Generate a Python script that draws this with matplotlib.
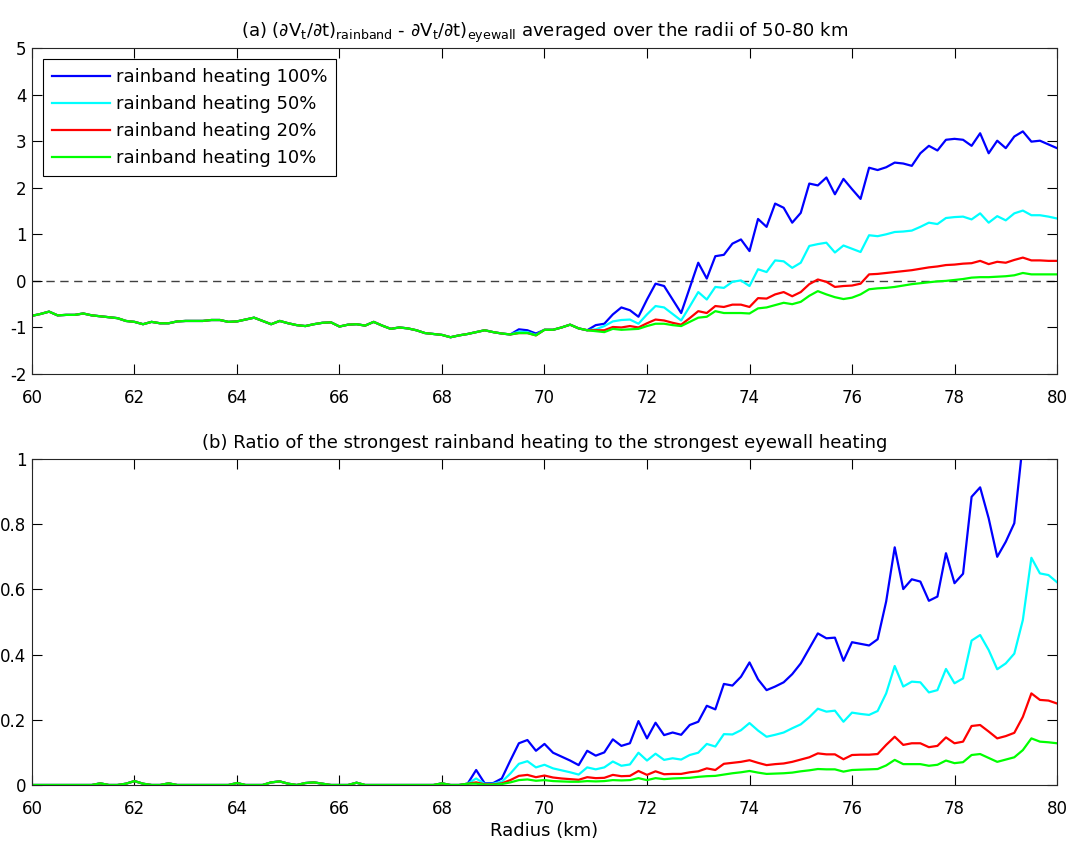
import numpy as np
import matplotlib

matplotlib.use("Agg")
import matplotlib.pyplot as plt


OUTPUT_PATH = "out.png"

# radius grid: every 1/6 km from 60 to 80 km
RADIUS_START = 60.0
RADIUS_STOP = 80.0
N_POINTS = 121

LABELS = [
    "rainband heating 100%",
    "rainband heating 50%",
    "rainband heating 20%",
    "rainband heating 10%",
]
COLORS = ["#0000ff", "#00ffff", "#ff0000", "#00ff00"]

# (a) dVt/dt difference, 60.0 .. 69.33 km, all runs identical here
dvdt_common = [
    -0.75, -0.71, -0.66, -0.74, -0.73, -0.73, -0.70, -0.74, -0.76, -0.78,
    -0.80, -0.86, -0.88, -0.93, -0.88, -0.91, -0.91, -0.87, -0.86, -0.86,
    -0.86, -0.84, -0.84, -0.88, -0.87, -0.83, -0.79, -0.86, -0.93, -0.86,
    -0.91, -0.95, -0.97, -0.93, -0.90, -0.89, -0.98, -0.94, -0.93, -0.96,
    -0.88, -0.96, -1.03, -1.00, -1.02, -1.06, -1.12, -1.14, -1.16, -1.21,
    -1.17, -1.14, -1.10, -1.06, -1.10, -1.13, -1.15,
]

# 69.5 .. 80.0 km
dvdt_100 = [
    -1.04, -1.06, -1.13, -1.05, -1.05, -1.00, -0.94, -1.02, -1.06,
    -0.95, -0.92, -0.72, -0.57, -0.63, -0.77,
    -0.40, -0.06, -0.11, -0.40, -0.69, -0.15,
    0.39, 0.05, 0.53, 0.56, 0.80, 0.89,
    0.64, 1.33, 1.16, 1.66, 1.57, 1.25,
    1.46, 2.09, 2.05, 2.22, 1.86, 2.19,
    1.97, 1.76, 2.43, 2.38, 2.44, 2.54,
    2.52, 2.47, 2.74, 2.90, 2.80, 3.03,
    3.05, 3.03, 2.90, 3.17, 2.74, 3.01,
    2.85, 3.10, 3.21, 2.99, 3.01, 2.93,
    2.85,
]
dvdt_50 = [
    -1.09, -1.10, -1.16, -1.05, -1.05, -1.00, -0.94, -1.02, -1.06,
    -1.04, -0.97, -0.87, -0.84, -0.83, -0.92,
    -0.72, -0.54, -0.57, -0.71, -0.85, -0.55,
    -0.24, -0.40, -0.13, -0.15, -0.02, 0.01,
    -0.11, 0.25, 0.19, 0.44, 0.42, 0.28,
    0.39, 0.75, 0.79, 0.82, 0.61, 0.76,
    0.69, 0.62, 0.98, 0.96, 1.00, 1.05,
    1.06, 1.08, 1.16, 1.25, 1.22, 1.35,
    1.37, 1.38, 1.32, 1.45, 1.25, 1.39,
    1.30, 1.45, 1.51, 1.41, 1.41, 1.38,
    1.34,
]
dvdt_20 = [
    -1.12, -1.12, -1.17, -1.05, -1.05, -1.00, -0.94, -1.02, -1.06,
    -1.06, -1.06, -0.99, -1.00, -0.97, -1.00,
    -0.91, -0.83, -0.85, -0.90, -0.94, -0.80,
    -0.65, -0.69, -0.54, -0.56, -0.51, -0.51,
    -0.56, -0.37, -0.38, -0.29, -0.24, -0.33,
    -0.24, -0.07, 0.03, -0.02, -0.13, -0.11,
    -0.10, -0.06, 0.14, 0.15, 0.17, 0.19,
    0.21, 0.23, 0.26, 0.29, 0.31, 0.34,
    0.35, 0.37, 0.38, 0.43, 0.36, 0.41,
    0.39, 0.45, 0.50, 0.44, 0.44, 0.43,
    0.43,
]
dvdt_10 = [
    -1.12, -1.12, -1.17, -1.05, -1.05, -1.00, -0.94, -1.02, -1.06,
    -1.08, -1.10, -1.03, -1.05, -1.04, -1.03,
    -0.97, -0.92, -0.92, -0.95, -0.97, -0.88,
    -0.79, -0.77, -0.65, -0.69, -0.69, -0.69,
    -0.70, -0.59, -0.57, -0.52, -0.47, -0.50,
    -0.45, -0.32, -0.22, -0.29, -0.35, -0.39,
    -0.36, -0.29, -0.18, -0.16, -0.15, -0.13,
    -0.10, -0.07, -0.05, -0.03, -0.01, 0.00,
    0.02, 0.04, 0.07, 0.08, 0.08, 0.09,
    0.10, 0.12, 0.17, 0.14, 0.14, 0.14,
    0.14,
]

# (b) heating ratio, 60.0 .. 68.5 km
ratio_common = [
    0, 0, 0, 0, 0, 0, 0, 0, 0.005, 0,
    0, 0.004, 0.012, 0.004, 0, 0, 0.005, 0, 0, 0,
    0, 0, 0, 0, 0.006, 0, 0, 0, 0.008, 0.011,
    0.004, 0, 0.006, 0.008, 0.004, 0, 0, 0, 0.007, 0,
    0, 0, 0, 0, 0, 0, 0, 0, 0.005, 0,
    0, 0.004,
]

# 68.67 .. 80.0 km
ratio_100 = [
    0.046, 0.005, 0.006, 0.020, 0.075,
    0.128, 0.138, 0.105, 0.126, 0.099, 0.087, 0.075, 0.061, 0.105,
    0.090, 0.100, 0.140, 0.120, 0.128, 0.196,
    0.143, 0.191, 0.153, 0.161, 0.154, 0.184,
    0.194, 0.243, 0.232, 0.310, 0.305, 0.332,
    0.376, 0.324, 0.291, 0.302, 0.315, 0.340,
    0.373, 0.419, 0.465, 0.450, 0.452, 0.381,
    0.438, 0.433, 0.428, 0.447, 0.563, 0.729,
    0.601, 0.631, 0.624, 0.565, 0.578, 0.711,
    0.619, 0.648, 0.884, 0.913, 0.818, 0.700,
    0.746, 0.803, 1.050, 1.400, 1.300, 1.290,
    1.240,
]
ratio_50 = [
    0.020, 0.003, 0.004, 0.010, 0.035,
    0.065, 0.073, 0.054, 0.062, 0.051, 0.045, 0.039, 0.032, 0.054,
    0.048, 0.054, 0.072, 0.059, 0.063, 0.099,
    0.075, 0.096, 0.077, 0.082, 0.078, 0.092,
    0.099, 0.126, 0.118, 0.156, 0.155, 0.168,
    0.190, 0.167, 0.148, 0.154, 0.161, 0.174,
    0.186, 0.208, 0.234, 0.225, 0.228, 0.194,
    0.222, 0.218, 0.215, 0.227, 0.281, 0.365,
    0.302, 0.317, 0.315, 0.284, 0.291, 0.356,
    0.312, 0.327, 0.443, 0.460, 0.414, 0.355,
    0.373, 0.403, 0.506, 0.697, 0.649, 0.644,
    0.622,
]
ratio_20 = [
    0.008, 0.002, 0.002, 0.005, 0.015,
    0.028, 0.031, 0.024, 0.029, 0.023, 0.020, 0.018, 0.016, 0.024,
    0.021, 0.022, 0.031, 0.027, 0.028, 0.043,
    0.031, 0.042, 0.033, 0.034, 0.034, 0.039,
    0.042, 0.051, 0.046, 0.065, 0.068, 0.071,
    0.076, 0.068, 0.061, 0.064, 0.066, 0.071,
    0.078, 0.085, 0.097, 0.094, 0.094, 0.079,
    0.092, 0.093, 0.093, 0.095, 0.123, 0.148,
    0.123, 0.128, 0.128, 0.116, 0.120, 0.146,
    0.128, 0.133, 0.181, 0.184, 0.164, 0.143,
    0.150, 0.160, 0.209, 0.281, 0.261, 0.259,
    0.250,
]
ratio_10 = [
    0.004, 0.001, 0.001, 0.003, 0.008,
    0.015, 0.017, 0.013, 0.015, 0.012, 0.011, 0.010, 0.010, 0.012,
    0.011, 0.012, 0.015, 0.014, 0.015, 0.021,
    0.015, 0.021, 0.018, 0.020, 0.021, 0.022,
    0.025, 0.027, 0.028, 0.032, 0.036, 0.039,
    0.043, 0.038, 0.034, 0.035, 0.036, 0.038,
    0.042, 0.045, 0.049, 0.048, 0.048, 0.041,
    0.046, 0.047, 0.048, 0.049, 0.060, 0.077,
    0.064, 0.064, 0.064, 0.059, 0.062, 0.075,
    0.067, 0.070, 0.092, 0.095, 0.083, 0.071,
    0.078, 0.085, 0.107, 0.143, 0.133, 0.131,
    0.128,
]

X_TICKS = list(range(60, 81, 2))
Y_TICKS_A = list(range(-2, 6))
Y_TICKS_B = [0, 0.2, 0.4, 0.6, 0.8, 1]
Y_TICKLABELS_B = ["0", "0.2", "0.4", "0.6", "0.8", "1"]

TITLE_A = (
    r"(a) $(\partial V_t/\partial t)_{rainband}$ - "
    r"$\partial V_t/\partial t)_{eyewall}$ averaged over the radii of 50-80 km"
)
TITLE_B = "(b) Ratio of the strongest rainband heating to the strongest eyewall heating"


def style_axes(ax):
    """MATLAB-like box: ticks inside on all four sides."""
    ax.set_xlim(RADIUS_START, RADIUS_STOP)
    ax.set_xticks(X_TICKS)
    ax.tick_params(
        which="both", direction="in", top=True, right=True,
        length=7, width=0.8, labelsize=12,
    )
    ax.tick_params(axis="x", pad=11)
    ax.tick_params(axis="y", pad=4)
    for spine in ax.spines.values():
        spine.set_linewidth(0.8)
        spine.set_color("0.15")


def main():
    plt.rcParams["font.family"] = ["DejaVu Sans"]
    plt.rcParams["mathtext.fontset"] = "dejavusans"
    plt.rcParams["mathtext.default"] = "regular"
    plt.rcParams["axes.unicode_minus"] = False

    radius = np.linspace(RADIUS_START, RADIUS_STOP, N_POINTS)
    dvdt_series = [dvdt_common + s for s in (dvdt_100, dvdt_50, dvdt_20, dvdt_10)]
    ratio_series = [ratio_common + s for s in (ratio_100, ratio_50, ratio_20, ratio_10)]

    fig = plt.figure(figsize=(10.73, 8.47), dpi=100)
    ax_a = fig.add_axes([0.0298, 0.5584, 0.9553, 0.3849])
    ax_b = fig.add_axes([0.0298, 0.0732, 0.9553, 0.3849])

    # panel (a)
    ax_a.axhline(0, color="0.25", linestyle=(0, (6, 4)), linewidth=1.0, zorder=1)
    for values, color, label in zip(dvdt_series, COLORS, LABELS):
        ax_a.plot(radius, values, color=color, linewidth=1.6, label=label, zorder=2)
    style_axes(ax_a)
    ax_a.set_ylim(-2, 5)
    ax_a.set_yticks(Y_TICKS_A)
    ax_a.set_title(TITLE_A, fontsize=13, pad=8)
    leg = ax_a.legend(
        loc="upper left", fontsize=13, frameon=True, fancybox=False,
        edgecolor="black", framealpha=1, handlelength=3.2, handletextpad=0.35,
        labelspacing=0.5, borderpad=0.5, borderaxespad=0.6,
    )
    leg.get_frame().set_linewidth(0.8)

    # panel (b)
    for values, color in zip(ratio_series, COLORS):
        ax_b.plot(radius, values, color=color, linewidth=1.6)
    style_axes(ax_b)
    ax_b.set_ylim(0, 1)
    ax_b.set_yticks(Y_TICKS_B)
    ax_b.set_yticklabels(Y_TICKLABELS_B)
    ax_b.set_title(TITLE_B, fontsize=13, pad=8)
    ax_b.set_xlabel("Radius (km)", fontsize=13, labelpad=3)

    fig.savefig(OUTPUT_PATH, dpi=100)
    plt.close(fig)


if __name__ == "__main__":
    main()
